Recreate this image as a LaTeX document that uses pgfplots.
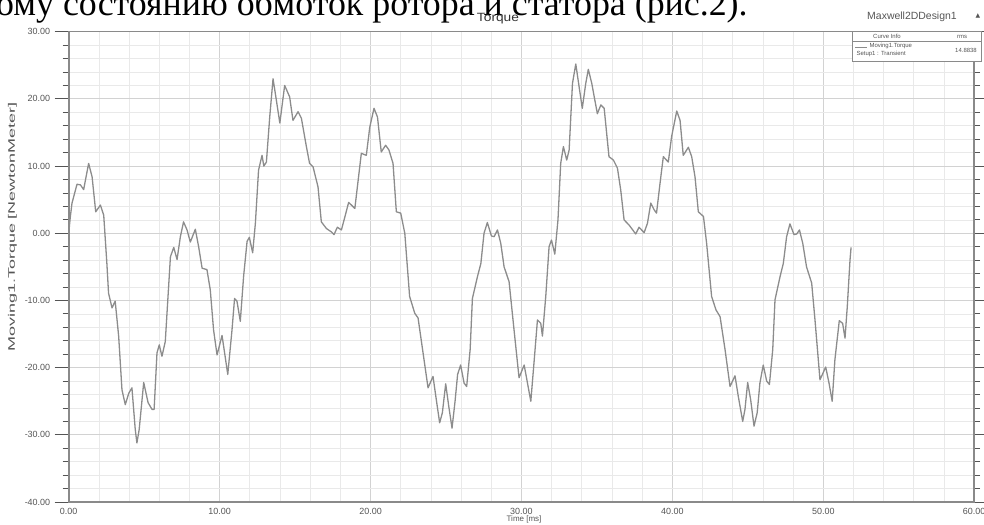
\documentclass[border=0pt]{standalone}
\usepackage{fontspec}
\setmainfont{Liberation Sans}
\newfontfamily\ruf{Liberation Serif}
\newfontfamily\symf{DejaVu Sans}
\usepackage{pgfplots}
\pgfplotsset{compat=1.18}
\usepackage{pgfplotstable}

\definecolor{curve}{HTML}{8C8C8C}
\definecolor{gridmaj}{HTML}{D2D2D2}
\definecolor{gridmin}{HTML}{E9E9E9}
\definecolor{axcol}{HTML}{8A8A8A}
\definecolor{txt}{HTML}{555555}

% Moving1.Torque, time [ms] vs torque [N m]
\pgfplotstableread{
t v
0.00 0.0
0.11 2.5
0.22 4.5
0.55 7.3
0.78 7.2
0.99 6.5
1.32 10.4
1.55 8.4
1.79 3.2
2.10 4.2
2.32 2.7
2.53 -4.5
2.64 -8.9
2.87 -11.1
3.08 -10.1
3.31 -15.3
3.53 -23.3
3.75 -25.5
3.98 -23.8
4.19 -23.0
4.41 -29.2
4.52 -31.2
4.67 -29.2
4.97 -22.2
5.26 -25.2
5.52 -26.2
5.66 -26.2
5.85 -17.8
6.00 -16.6
6.18 -18.3
6.40 -16.1
6.74 -3.5
6.96 -2.1
7.18 -3.9
7.40 -0.5
7.61 1.7
7.84 0.5
8.06 -1.3
8.39 0.6
8.61 -2.0
8.84 -5.2
9.16 -5.4
9.38 -8.4
9.60 -14.4
9.83 -18.1
10.16 -15.2
10.54 -21.0
10.82 -14.4
10.99 -9.7
11.15 -10.1
11.37 -13.1
11.59 -6.4
11.82 -1.2
11.97 -0.6
12.19 -2.9
12.37 1.5
12.58 9.4
12.81 11.6
12.93 10.0
13.10 10.6
13.32 17.3
13.54 23.0
13.76 19.8
13.99 16.4
14.31 22.0
14.64 20.3
14.86 16.8
15.20 18.1
15.42 17.1
15.75 12.9
15.96 10.4
16.19 9.9
16.52 6.9
16.74 1.7
17.08 0.7
17.41 0.2
17.58 -0.2
17.80 0.9
18.07 0.5
18.33 2.7
18.55 4.6
18.96 3.7
19.17 7.7
19.39 11.9
19.72 11.6
19.95 15.8
20.23 18.6
20.46 17.3
20.71 12.1
21.00 13.1
21.22 12.4
21.49 10.4
21.71 3.2
22.00 3.0
22.27 0.0
22.59 -9.4
22.93 -11.9
23.15 -12.6
23.48 -17.8
23.81 -23.0
24.14 -21.3
24.36 -24.8
24.58 -28.2
24.76 -26.7
24.98 -22.4
25.18 -25.7
25.40 -29.0
25.60 -25.0
25.77 -21.0
25.97 -19.6
26.20 -22.3
26.37 -22.8
26.60 -17.3
26.75 -9.7
27.09 -6.4
27.31 -4.5
27.52 0.0
27.74 1.6
28.01 -0.4
28.19 -0.5
28.41 0.5
28.63 -1.5
28.85 -5.0
29.18 -7.2
29.51 -14.4
29.84 -21.5
30.18 -19.6
30.40 -22.3
30.62 -25.0
30.83 -19.3
31.06 -12.9
31.28 -13.4
31.39 -15.3
31.61 -9.4
31.83 -2.0
31.99 -1.0
32.21 -3.1
32.42 2.0
32.60 10.4
32.78 12.9
33.00 10.9
33.16 12.4
33.38 22.3
33.60 25.2
33.82 21.8
34.03 18.6
34.26 22.3
34.43 24.4
34.66 22.3
34.88 19.6
35.03 17.8
35.26 19.1
35.48 18.6
35.80 11.4
36.09 10.9
36.36 9.7
36.58 6.4
36.80 2.0
37.14 1.2
37.57 -0.1
37.79 0.9
38.13 0.1
38.35 1.5
38.57 4.5
38.79 3.5
38.95 3.0
39.18 7.4
39.40 11.4
39.73 10.6
39.95 14.4
40.29 18.2
40.51 16.8
40.72 11.6
41.06 12.8
41.28 11.4
41.50 8.4
41.72 3.2
42.06 2.5
42.27 -1.5
42.60 -9.4
42.89 -11.4
43.16 -12.4
43.49 -17.3
43.82 -22.8
44.15 -21.2
44.37 -24.3
44.66 -28.0
44.81 -26.2
44.99 -22.2
45.19 -24.8
45.41 -28.7
45.62 -26.7
45.80 -22.3
46.02 -19.6
46.25 -22.0
46.43 -22.5
46.65 -17.3
46.80 -9.9
47.14 -6.4
47.35 -4.5
47.57 -0.5
47.79 1.4
48.06 -0.2
48.24 -0.1
48.42 0.5
48.64 -1.5
48.89 -5.0
49.23 -7.4
49.45 -12.9
49.78 -21.8
50.16 -19.9
50.38 -22.3
50.59 -25.0
50.77 -18.8
51.06 -13.0
51.28 -13.4
51.44 -15.6
51.59 -10.9
51.77 -4.0
51.84 -2.1
}\torque

\begin{document}
\begin{tikzpicture}[x=1bp,y=1bp]
\useasboundingbox (0,0) rectangle (984,525);

% cut-off line of the page text above the figure
\node[anchor=base west, inner sep=0pt, font=\ruf\fontsize{36}{36}\selectfont]
  at (-4,509) {ому состоянию обмоток ротора и статора (рис.2).};

\begin{axis}[
  at={(68.7bp,22.9bp)}, anchor=south west,
  scale only axis, width=905.5bp, height=470.4bp,
  xmin=0, xmax=60, ymin=-40, ymax=30,
  xtick={0,10,...,60}, ytick={-40,-30,...,30},
  minor tick num=4,
  grid=both,
  major grid style={draw=gridmaj, line width=0.9bp},
  minor grid style={draw=gridmin, line width=0.7bp},
  axis line style={draw=axcol, line width=1.6bp},
  tick align=outside,
  major tick length=14bp, minor tick length=6bp,
  every tick/.style={draw=txt, line width=0.9bp},
  x tick style={draw=none}, minor x tick style={draw=none},
  /pgf/number format/.cd, fixed, fixed zerofill, precision=2,
  assume math mode=true, /pgfplots/.cd,
  tick label style={font=\fontsize{9}{9}\selectfont, text=txt},
  xticklabel style={yshift=11bp},
  yticklabel style={xshift=-1bp},
  clip=false,
]
\addplot[curve, line width=1.3bp, line join=round] table[x=t, y=v] {\torque};
\end{axis}

% title, design name and axis labels
\node[font=\fontsize{12}{12}\selectfont, text=black!80] at (498,506) {\scalebox{1.15}[1]{Torque}};
\node[font=\fontsize{10.5}{10.5}\selectfont, text=txt] at (912,508) {Maxwell2DDesign1};
\node[font=\symf\fontsize{6}{6}\selectfont, text=txt] at (978,509) {▲};
\node[font=\fontsize{8}{8}\selectfont, text=txt] at (524,6) {Time [ms]};
\node[rotate=90, font=\fontsize{9.5}{9.5}\selectfont, text=txt] at (12.5,298)
  {\scalebox{1.9}[1]{Moving1.Torque [NewtonMeter]}};

% curve info box
\draw[axcol, line width=1bp, fill=white] (852,463) rectangle (981,493);
\draw[axcol, line width=0.5bp] (852,484) -- (981,484);
\node[font=\fontsize{6}{6}\selectfont, text=txt] at (887,488.5) {Curve Info};
\node[font=\fontsize{6}{6}\selectfont, text=txt] at (962,488.5) {rms};
\draw[curve, line width=0.8bp] (855,478) -- (867,478);
\node[anchor=west, font=\fontsize{6}{6}\selectfont, text=txt] at (866,479.5) {Moving1.Torque};
\node[anchor=west, font=\fontsize{6}{6}\selectfont, text=txt] at (853,471) {Setup1 : Transient};
\node[font=\fontsize{6}{6}\selectfont, text=txt] at (966,475) {14.8838};
\end{tikzpicture}
\end{document}
